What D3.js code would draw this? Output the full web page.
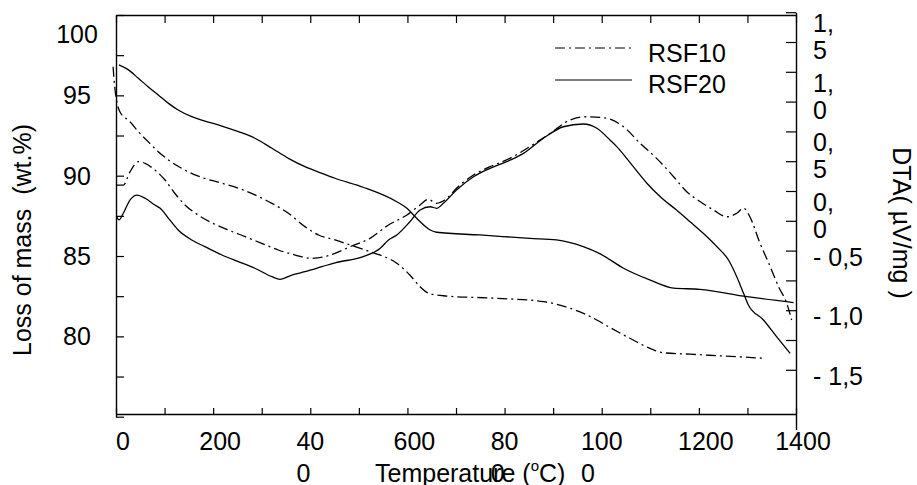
<!DOCTYPE html>
<html>
<head>
<meta charset="utf-8">
<script src="https://cdn.jsdelivr.net/npm/d3@7"></script>
<style>
    body { margin: 0; background: #fff; }
    text { font-family: "Liberation Sans", Arial, Helvetica, sans-serif; fill: #000; }
</style>
</head>
<body>
<div class="canvas"></div>
<script>
// 1 - Data
// RSF20 mass (solid, left axis)
const rsf20TgTemp = [6, 25, 46, 66, 87, 108, 128, 156, 183, 218, 252, 286, 321, 355, 389, 424, 451, 509, 578, 599, 619, 647, 660, 749, 852, 907, 962, 997, 1045, 1100, 1148, 1202, 1299, 1395]
const rsf20TgMass = [96.9, 96.6, 96.06, 95.54, 95.02, 94.5, 94.09, 93.67, 93.4, 93.09, 92.74, 92.33, 91.71, 91.08, 90.56, 90.15, 89.84, 89.28, 88.38, 87.97, 87.35, 86.62, 86.48, 86.31, 86.1, 86.0, 85.58, 85.13, 84.24, 83.5, 83.0, 82.93, 82.47, 82.1]
// RSF20 DTA (solid, right axis)
const rsf20DtaTemp = [1, 6, 15, 29, 43, 60, 80, 91, 108, 128, 156, 183, 218, 252, 286, 321, 338, 362, 389, 424, 451, 509, 544, 561, 578, 605, 626, 647, 660, 674, 701, 736, 770, 804, 839, 880, 921, 962, 990, 1017, 1031, 1065, 1093, 1124, 1154, 1182, 1209, 1237, 1261, 1278, 1292, 1302, 1333, 1360, 1388]
const rsf20DtaVal = [-0.21, -0.243, -0.187, -0.075, -0.034, -0.061, -0.117, -0.145, -0.229, -0.327, -0.411, -0.467, -0.537, -0.593, -0.648, -0.719, -0.741, -0.705, -0.677, -0.635, -0.602, -0.551, -0.481, -0.411, -0.369, -0.258, -0.159, -0.132, -0.145, -0.103, 0.008, 0.12, 0.19, 0.246, 0.316, 0.442, 0.539, 0.562, 0.526, 0.428, 0.372, 0.204, 0.065, -0.061, -0.159, -0.258, -0.355, -0.467, -0.579, -0.719, -0.858, -0.956, -1.082, -1.222, -1.362]
// RSF10 mass (dash-dot, left axis)
const rsf10TgTemp = [-6, -3, 1, 8, 29, 46, 66, 87, 108, 135, 176, 218, 252, 286, 321, 355, 389, 417, 451, 482, 523, 578, 605, 626, 647, 681, 784, 880, 935, 978, 1017, 1058, 1103, 1124, 1182, 1250, 1333]
const rsf10TgMass = [96.78, 95.64, 94.71, 93.98, 93.36, 92.74, 92.12, 91.49, 90.98, 90.46, 89.9, 89.53, 89.22, 88.8, 88.28, 87.66, 86.83, 86.31, 86.0, 85.69, 85.27, 84.55, 83.82, 83.09, 82.64, 82.51, 82.37, 82.16, 81.75, 81.21, 80.55, 79.88, 79.2, 78.99, 78.89, 78.78, 78.64]
// RSF10 DTA (dash-dot, right axis)
const rsf10DtaTemp = [1, 15, 29, 46, 60, 80, 101, 121, 142, 169, 197, 231, 266, 300, 334, 369, 403, 430, 451, 482, 523, 561, 599, 626, 643, 660, 677, 701, 736, 770, 811, 852, 894, 935, 969, 1010, 1045, 1079, 1113, 1148, 1175, 1203, 1230, 1257, 1278, 1292, 1305, 1326, 1347, 1364, 1381, 1391]
const rsf10DtaVal = [0.05, 0.05, 0.162, 0.246, 0.232, 0.176, 0.092, -0.019, -0.117, -0.201, -0.266, -0.327, -0.383, -0.439, -0.495, -0.537, -0.565, -0.551, -0.523, -0.467, -0.397, -0.285, -0.201, -0.117, -0.07, -0.103, -0.076, 0.023, 0.134, 0.204, 0.274, 0.372, 0.484, 0.596, 0.623, 0.61, 0.539, 0.4, 0.274, 0.12, -0.006, -0.09, -0.159, -0.216, -0.187, -0.145, -0.216, -0.439, -0.635, -0.803, -0.942, -1.082]

// tick labels, as they are broken over lines in the picture
const xTickValues = [0, 200, 400, 600, 800, 1000, 1200, 1400]
const xTickLines = [['0'], ['200'], ['40', '0'], ['600'], ['80', '0'], ['100', '0'], ['1200'], ['1400']]
const leftTickValues = [80, 85, 90, 95, 100]
const rightTickValues = [1.5, 1, 0.5, 0, -0.5, -1, -1.5]
const rightTickLines = [['1,', '5'], ['1,', '0'], ['0,', '5'], ['0,', '0'], ['- 0,5'], ['- 1,0'], ['- 1,5']]
const seriesNames = ['RSF10', 'RSF20']

// 2 - Dimensions
const dims = { width: 917, height: 485 }
const plot = { left: 116, right: 796, top: 15, bottom: 414 }
const dashDot = '10,4,2,4'
const fontSize = 25

const svg = d3.select('.canvas')
    .append('svg')
    .attr('width', dims.width)
    .attr('height', dims.height)

// 3 - Scales
const x = d3.scaleLinear().domain([0, 1400]).range([plot.left, plot.right])
const yMass = d3.scaleLinear().domain([75, 100]).range([416.7, plot.top])
const yDta = d3.scaleLinear().domain([-2, 1.5]).range([429.4, 12.2])

// 4 - Axes (ticks only, labels drawn below)
const styleAxis = g => {
    g.selectAll('path').attr('stroke', '#000').attr('stroke-width', 1.4)
    g.selectAll('line').attr('stroke', '#000').attr('stroke-width', 1.2)
    g.selectAll('text').remove()
}

svg.append('g')
    .attr('transform', `translate(0, ${plot.bottom})`)
    .call(d3.axisBottom(x).tickValues(d3.range(0, 1401, 100)).tickSize(-6).tickSizeOuter(0))
    .call(styleAxis)

svg.append('g')
    .attr('transform', `translate(0, ${plot.top})`)
    .call(d3.axisTop(x).tickValues(d3.range(0, 1401, 100)).tickSize(-8).tickSizeOuter(0))
    .call(styleAxis)

svg.append('g')
    .attr('transform', `translate(${plot.left}, 0)`)
    .call(d3.axisLeft(yMass).tickValues(d3.range(75, 100.1, 2.5)).tickSize(-8).tickSizeOuter(0))
    .call(styleAxis)

svg.append('g')
    .attr('transform', `translate(${plot.right}, 0)`)
    .call(d3.axisRight(yDta).tickValues(d3.range(-1.5, 1.51, 0.25)).tickSize(-10).tickSizeOuter(0))
    .call(styleAxis)

// 5 - Tick labels
const tickText = svg.append('g').attr('font-size', fontSize)

// bottom: whole label centred a little right of the tick, broken lines left aligned
const probe = tickText.append('text').attr('visibility', 'hidden')
xTickValues.forEach((v, i) => {
    const lines = xTickLines[i]
    probe.text(lines.join(''))
    const w = probe.node().getComputedTextLength()
    const left = x(v) + 7 - w / 2
    const t = tickText.append('text').attr('x', left).attr('y', 450)
    lines.forEach((l, j) => {
        t.append('tspan').attr('x', left).attr('dy', j === 0 ? 0 : 32).text(l)
    })
})
probe.remove()

// left
tickText.selectAll('.ly')
    .data(leftTickValues)
    .enter()
    .append('text')
        .attr('class', 'ly')
        .attr('x', 77)
        .attr('y', d => Math.max(yMass(d) + 9, 43))
        .attr('text-anchor', 'middle')
        .text(d => d)

// right
rightTickValues.forEach((v, i) => {
    const lines = rightTickLines[i]
    const t = tickText.append('text')
        .attr('x', 813)
        .attr('y', yDta(v) + (lines.length > 1 ? 20 : 15))
    lines.forEach((l, j) => {
        t.append('tspan').attr('x', 813).attr('dy', j === 0 ? 0 : 27).text(l)
    })
})

// 6 - Axis titles
const xTitle = svg.append('text')
    .attr('x', 375)
    .attr('y', 482)
    .attr('font-size', fontSize)
xTitle.append('tspan').text('Temperature (')
xTitle.append('tspan').attr('font-size', 15).attr('dy', -11).text('o')
xTitle.append('tspan').attr('dy', 11).text('C)')

svg.append('text')
    .attr('transform', 'translate(31, 240) rotate(-90)')
    .attr('text-anchor', 'middle')
    .attr('font-size', fontSize)
    .attr('xml:space', 'preserve')
    .text('Loss of mass  (wt.%)')

svg.append('text')
    .attr('transform', 'translate(893, 223) rotate(90)')
    .attr('text-anchor', 'middle')
    .attr('font-size', fontSize)
    .attr('xml:space', 'preserve')
    .text('DTA( µV/mg )')

// 7 - Curves
const zip = (ts, vs) => ts.map((t, i) => ({ t, v: vs[i] }))

const massLine = d3.line().x(d => x(d.t)).y(d => yMass(d.v)).curve(d3.curveMonotoneX)
const dtaLine = d3.line().x(d => x(d.t)).y(d => yDta(d.v)).curve(d3.curveMonotoneX)

const curves = [
    { data: zip(rsf20TgTemp, rsf20TgMass), gen: massLine, dash: null },
    { data: zip(rsf20DtaTemp, rsf20DtaVal), gen: dtaLine, dash: null },
    { data: zip(rsf10TgTemp, rsf10TgMass), gen: massLine, dash: dashDot },
    { data: zip(rsf10DtaTemp, rsf10DtaVal), gen: dtaLine, dash: dashDot }
]

svg.append('g')
    .selectAll('path')
    .data(curves)
    .enter()
    .append('path')
        .attr('d', d => d.gen(d.data))
        .attr('fill', 'none')
        .attr('stroke', '#000')
        .attr('stroke-width', 1.3)
        .attr('stroke-dasharray', d => d.dash)

// 8 - Legend
const legend = svg.append('g')
seriesNames.forEach((name, i) => {
    legend.append('line')
        .attr('x1', 555).attr('x2', 632)
        .attr('y1', 48 + i * 32).attr('y2', 48 + i * 32)
        .attr('stroke', '#000')
        .attr('stroke-width', 1.2)
        .attr('stroke-dasharray', i === 0 ? dashDot : null)
    legend.append('text')
        .attr('x', 648)
        .attr('y', 62 + i * 31)
        .attr('font-size', fontSize)
        .text(name)
})
</script>
</body>
</html>
